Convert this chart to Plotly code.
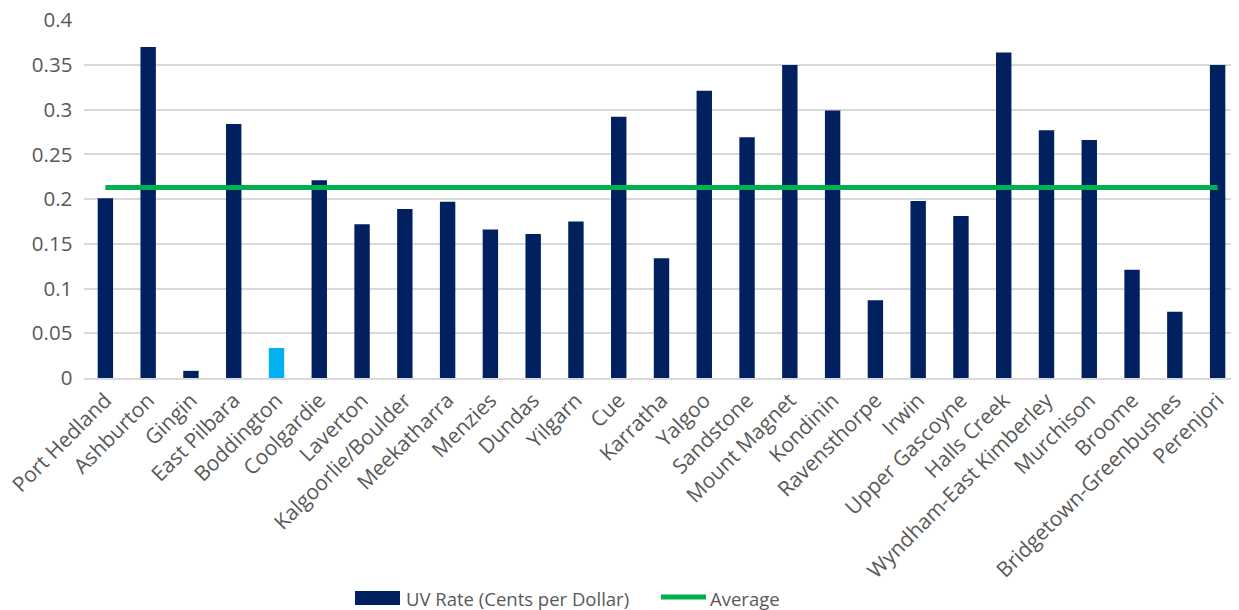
import plotly.graph_objects as go

categories = ["Port Hedland", "Ashburton", "Gingin", "East Pilbara", "Boddington", "Coolgardie",
              "Laverton", "Kalgoorlie/Boulder", "Meekatharra", "Menzies", "Dundas", "Yilgarn",
              "Cue", "Karratha", "Yalgoo", "Sandstone", "Mount Magnet", "Kondinin", "Ravensthorpe",
              "Irwin", "Upper Gascoyne", "Halls Creek", "Wyndham-East Kimberley", "Murchison",
              "Broome", "Bridgetown-Greenbushes", "Perenjori"]
uv_rate = [0.201, 0.370, 0.008, 0.284, 0.0335, 0.221, 0.172, 0.189, 0.197, 0.166, 0.161, 0.175,
           0.292, 0.134, 0.321, 0.269, 0.350, 0.299, 0.087, 0.198, 0.181, 0.364, 0.277, 0.266,
           0.121, 0.074, 0.350]
average = [0.213] * len(categories)
highlight = "Boddington"
series_names = ["UV Rate (Cents per Dollar)", "Average"]

NAVY = "#002060"
LIGHT = "#00B0F0"
GREEN = "#00B050"
GRAY = "#595959"
bar_colors = [LIGHT if c == highlight else NAVY for c in categories]

# page body has an 8px default margin; compensate so the window matches the reference
OFF = 8
W, H = 1239 - OFF, 610 - OFF
L, R, T = 84 - OFF, 0, 20 - OFF
B = H - (378 - OFF)
pw, ph = W - L - R, H - T - B

def px(x):
    return (x - OFF - L) / pw

def py(y):
    return (H - B - (y - OFF)) / ph

fig = go.Figure()
fig.add_trace(go.Bar(x=categories, y=uv_rate, name=series_names[0],
                     marker=dict(color=bar_colors, line=dict(width=0)), showlegend=False))
fig.add_trace(go.Scatter(x=categories, y=average, name=series_names[1], mode="lines",
                         line=dict(color=GREEN, width=5), showlegend=False))

font_family = "Open Sans"

# custom legend (wide swatches like the reference)
ly = 598
fig.add_shape(type="rect", xref="paper", yref="paper",
              x0=px(355), x1=px(400), y0=py(605), y1=py(591),
              fillcolor=NAVY, line=dict(width=0))
fig.add_annotation(xref="paper", yref="paper", x=px(404), y=py(ly), xanchor="left",
                   yanchor="middle", text=series_names[0], showarrow=False,
                   font=dict(family=font_family, size=18.5, color=GRAY))
fig.add_shape(type="line", xref="paper", yref="paper",
              x0=px(661), x1=px(706), y0=py(597), y1=py(597),
              line=dict(color=GREEN, width=5))
fig.add_annotation(xref="paper", yref="paper", x=px(708), y=py(ly), xanchor="left",
                   yanchor="middle", text=series_names[1], showarrow=False,
                   font=dict(family=font_family, size=18.5, color=GRAY))

fig.update_layout(
    width=W, height=H,
    margin=dict(l=L, r=R, t=T, b=B),
    plot_bgcolor="white", paper_bgcolor="white",
    bargap=0.64,
    font=dict(family=font_family, color=GRAY, size=20),
    showlegend=False,
    xaxis=dict(tickangle=-45, showgrid=False, showline=True, linecolor="#D9D9D9",
               linewidth=1.5, tickfont=dict(size=21), ticks="", automargin=False,
               ticklabeloverflow="allow", range=[-0.5, len(categories) - 0.5]),
    yaxis=dict(range=[0, 0.4002], dtick=0.05, tick0=0, showgrid=True, gridcolor="#D9D9D9",
               gridwidth=1.5, zeroline=False, tickfont=dict(size=20.5), tickformat="~g",
               ticksuffix="  ", automargin=False, ticklabeloverflow="allow"),
)

fig.write_html("out.html")
